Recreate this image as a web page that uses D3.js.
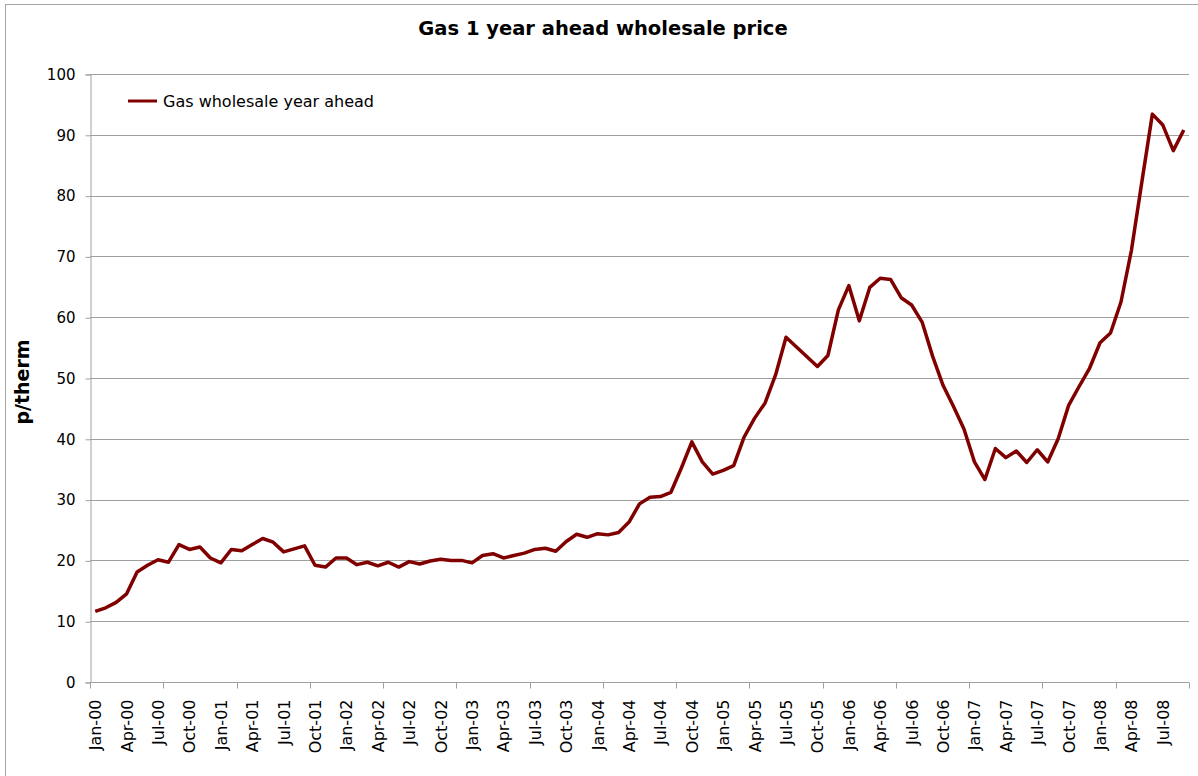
<!DOCTYPE html>
<html>
<head>
<meta charset="utf-8">
<script src="https://cdn.jsdelivr.net/npm/d3@7"></script>
<style>
  html, body { margin: 0; padding: 0; background: #fff; }
  svg { display: block; font-family: "DejaVu Sans", Verdana, sans-serif; }
</style>
</head>
<body>
<svg id="chart" width="1198" height="776"></svg>
<script>
// monthly series, Jan-00 .. Sep-08
var startMonth = "2000-01-01";
var prices = [
  11.6, 12.2, 13.1, 14.5, 18.1, 19.2, 20.1, 19.7, 22.6, 21.8, 22.2, 20.4,
  19.6, 21.8, 21.6, 22.6, 23.6, 23.0, 21.4, 21.9, 22.4, 19.2, 18.9, 20.4,
  20.4, 19.3, 19.7, 19.1, 19.7, 18.9, 19.8, 19.4, 19.9, 20.2, 20.0, 20.0,
  19.6, 20.8, 21.1, 20.4, 20.8, 21.2, 21.8, 22.0, 21.5, 23.1, 24.3, 23.8,
  24.4, 24.2, 24.6, 26.3, 29.3, 30.4, 30.5, 31.2, 35.2, 39.5, 36.2, 34.2,
  34.8, 35.6, 40.3, 43.4, 45.9, 50.5, 56.7, 55.1, 53.5, 51.9, 53.7, 61.2,
  65.2, 59.4, 64.9, 66.4, 66.2, 63.2, 62.0, 59.2, 53.6, 48.8, 45.3, 41.6,
  36.2, 33.3, 38.4, 36.9, 38.0, 36.1, 38.2, 36.2, 40.0, 45.5, 48.6, 51.6,
  55.8, 57.4, 62.5, 71.0, 82.3, 93.4, 91.6, 87.4, 90.8
];
var yTicks = [0, 10, 20, 30, 40, 50, 60, 70, 80, 90, 100];
var seriesName = "Gas wholesale year ahead";
var titleText = "Gas 1 year ahead wholesale price";
var yLabel = "p/therm";

(function(){
  var parse = d3.utcParse("%Y-%m-%d");
  var fmt = d3.utcFormat("%b-%y");
  var months = prices.map(function(d, i){ return d3.utcMonth.offset(parse(startMonth), i); });

  var svg = d3.select("#chart");
  var W = 1198, H = 776;
  var pl = 90, pr = 1189, pt = 74, pb = 682;

  svg.append("rect").attr("width", W).attr("height", H).attr("fill", "#fff");
  // outer chart frame
  svg.append("rect")
    .attr("x", 5.5).attr("y", 4.5)
    .attr("width", 1200).attr("height", 800)
    .attr("fill", "none").attr("stroke", "#a6a6a6").attr("stroke-width", 1);

  var x = d3.scaleBand().domain(d3.range(prices.length)).range([pl, pr]).padding(0);
  var y = d3.scaleLinear().domain([0, 100]).range([pb, pt]);
  var cx = function(i){ return x(i) + x.bandwidth() / 2; };

  // gridlines
  svg.append("g")
    .selectAll("line")
    .data(yTicks.filter(function(t){ return t > 0; }))
    .enter().append("line")
    .attr("x1", pl).attr("x2", pr)
    .attr("y1", function(d){ return Math.round(y(d)) + 0.5; })
    .attr("y2", function(d){ return Math.round(y(d)) + 0.5; })
    .attr("stroke", "#a0a0a0").attr("stroke-width", 1);

  // y axis
  var yAxis = svg.append("g")
    .attr("transform", "translate(" + (pl + 0.5) + ",0.5)")
    .call(d3.axisLeft(y).tickValues(yTicks).tickSize(5).tickPadding(10));
  yAxis.select(".domain").attr("stroke", "#a0a0a0");
  yAxis.selectAll(".tick line").attr("stroke", "#a0a0a0");
  yAxis.selectAll(".tick text")
    .attr("fill", "#000").attr("font-size", 15)
    .attr("font-family", "DejaVu Sans, Verdana, sans-serif");

  // x axis: tick marks every 7 months, labels every 3 months
  var xg = svg.append("g").attr("transform", "translate(0," + (pb + 0.5) + ")");
  xg.append("line").attr("x1", pl).attr("x2", pr)
    .attr("stroke", "#a0a0a0");
  var markIdx = d3.range(0, prices.length + 1, 7);
  xg.selectAll("line.mark")
    .data(markIdx).enter().append("line")
    .attr("class", "mark")
    .attr("x1", function(i){ return Math.round(i < prices.length ? x(i) : pr) + 0.5; })
    .attr("x2", function(i){ return Math.round(i < prices.length ? x(i) : pr) + 0.5; })
    .attr("y1", 0).attr("y2", 6)
    .attr("stroke", "#a0a0a0");
  var labelIdx = d3.range(0, prices.length, 3);
  xg.selectAll("text")
    .data(labelIdx).enter().append("text")
    .attr("transform", function(i){ return "translate(" + (cx(i) + 6) + ",17) rotate(-90)"; })
    .attr("text-anchor", "end")
    .attr("font-size", 16)
    .attr("fill", "#000")
    .text(function(i){ return fmt(months[i]); });

  // series line
  var line = d3.line()
    .x(function(d, i){ return cx(i); })
    .y(function(d){ return y(d); });
  svg.append("path")
    .datum(prices)
    .attr("d", line)
    .attr("fill", "none")
    .attr("stroke", "#800000")
    .attr("stroke-width", 3.5)
    .attr("stroke-linejoin", "round");

  // legend
  var lg = svg.append("g").attr("transform", "translate(128,101)");
  lg.append("line").attr("x1", 0).attr("x2", 29).attr("y1", 0).attr("y2", 0)
    .attr("stroke", "#800000").attr("stroke-width", 3);
  lg.append("text").attr("x", 35).attr("y", 5.5)
    .attr("font-size", 16).attr("fill", "#000")
    .text(seriesName);

  // title
  svg.append("text")
    .attr("x", 603).attr("y", 35)
    .attr("text-anchor", "middle")
    .attr("font-size", 19.5).attr("font-weight", "bold")
    .attr("fill", "#000")
    .text(titleText);

  // y label
  svg.append("text")
    .attr("transform", "translate(29,382) rotate(-90)")
    .attr("text-anchor", "middle")
    .attr("font-size", 19).attr("font-weight", "bold")
    .attr("fill", "#000")
    .text(yLabel);
})();
</script>
</body>
</html>
